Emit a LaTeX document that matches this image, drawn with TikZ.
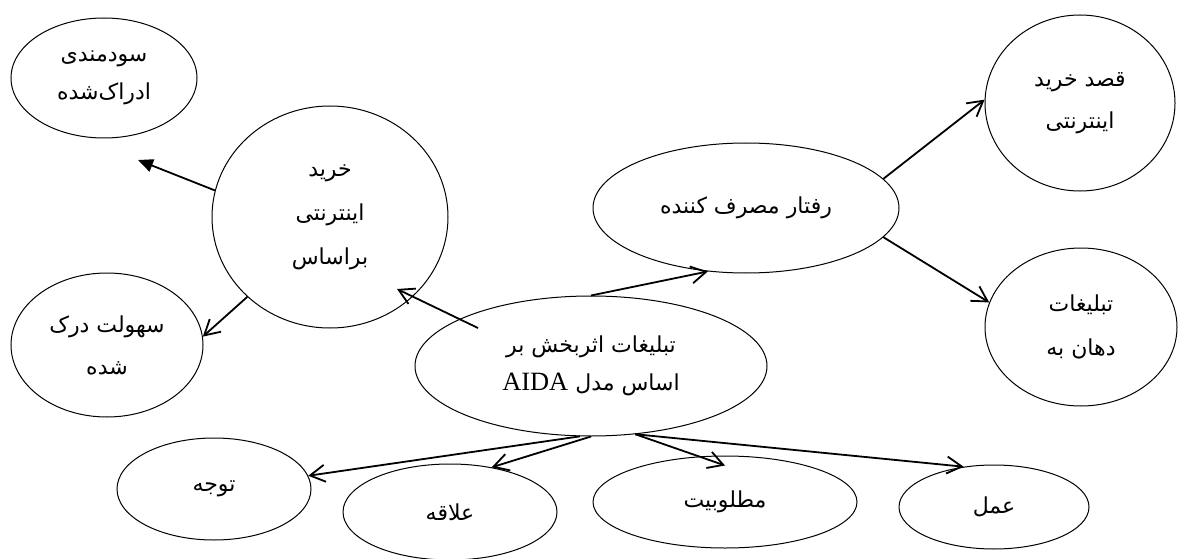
\documentclass[tikz,border=0pt]{standalone}
\usepackage{fontspec}
\setmainfont{Liberation Serif}
\newfontfamily\farsifont[Script=Arabic]{DejaVu Sans}
\newfontfamily\latinfont[Scale=1.2]{Liberation Serif}
\TeXXeTstate=1
\usepackage{tikz}
\usetikzlibrary{shapes.geometric,arrows.meta}
\newcommand{\fatext}[1]{{\farsifont\beginR #1\endR}}
\tikzset{my oval/.style = {draw, ellipse, line width=1pt, inner sep=0pt, align=center},
  my arrow/.style = {line width=1.8pt, -{Straight Barb[length=15pt,width=17pt]}}
  }

\begin{document}
\begin{tikzpicture}[x=1pt,y=-1pt,every node/.style={font=\fontsize{22}{42}\selectfont}]
  \useasboundingbox (0,0) rectangle (1178,559);
  \node[my oval, minimum width=186pt, minimum height=120pt, font=\fontsize{22}{38}\selectfont] (U) at (104,78) {\fatext{سودمندی}\\\fatext{ادراک‌شده}};
  \node[my oval, minimum width=236pt, minimum height=222pt, font=\fontsize{22}{44}\selectfont] (B) at (330,217) {\fatext{خرید}\\\fatext{اینترنتی}\\\fatext{براساس}};
  \node[my oval, minimum width=192pt, minimum height=144pt] (E) at (107,345) {\fatext{سهولت درک}\\\fatext{شده}};
  \node[my oval, minimum width=306pt, minimum height=130pt] (C) at (746,208) {\fatext{رفتار مصرف کننده}};
  \node[my oval, minimum width=190pt, minimum height=176pt] (N) at (1080,103) {\fatext{قصد خرید}\\\fatext{اینترنتی}};
  \node[my oval, minimum width=192pt, minimum height=158pt, font=\fontsize{22}{44}\selectfont] (W) at (1081,327) {\fatext{تبلیغات}\\\fatext{دهان به}};
  \node[my oval, minimum width=352pt, minimum height=140pt, font=\fontsize{22}{38}\selectfont] (A) at (591,366) {\fatext{تبلیغات اثربخش بر}\\\fatext{اساس مدل \beginL{\latinfont AIDA}\endL}};
  \node[my oval, minimum width=194pt, minimum height=102pt] (T) at (214,489) {\fatext{توجه}};
  \node[my oval, minimum width=214pt, minimum height=96pt] (L) at (450,512) {\fatext{علاقه}};
  \node[my oval, minimum width=264pt, minimum height=92pt] (D) at (725,502) {\fatext{مطلوبیت}};
  \node[my oval, minimum width=190pt, minimum height=84pt] (X) at (994,507) {\fatext{عمل}};
  \coordinate (u tip) at (138,160);
  \coordinate (a start) at (478,328);
  \coordinate (b tip) at (397,289);
  \draw[my arrow, -{Triangle[length=15pt,width=13pt]}] (B.167) -- (u tip);
  \draw[my arrow] (B.224) -- (E.5);
  \draw[my arrow] (a start) -- (b tip);
  \draw[my arrow] (A.north) -- (C.239);
  \draw[my arrow] (C.12) -- (N.178);
  \draw[my arrow] (C.-12) -- (W.165);
  \draw[my arrow] (A.-99) -- (T.8);
  \draw[my arrow] (A.south) -- (L.47);
  \draw[my arrow] (A.-57) -- ([yshift=-10pt]D.north);
  \draw[my arrow] (A.-57) -- (X.127);
\end{tikzpicture}
\end{document}
